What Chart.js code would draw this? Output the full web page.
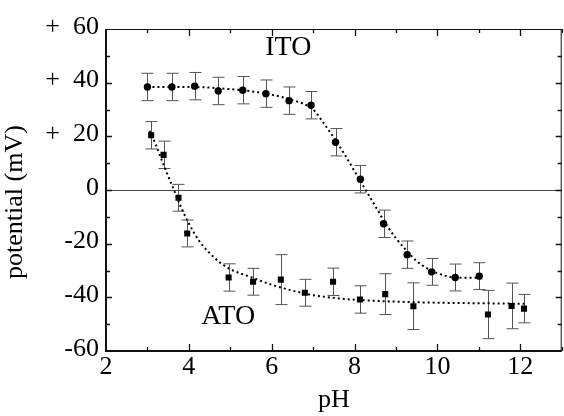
<!DOCTYPE html>
<html>
<head>
<meta charset="utf-8">
<script src="https://cdn.jsdelivr.net/npm/chart.js@4.4.1/dist/chart.umd.min.js"></script>
<style>
html, body { margin: 0; padding: 0; overflow: hidden; background: #fff; }
canvas { display: block; }
</style>
</head>
<body>
<canvas id="plot" width="566" height="416"></canvas>
<script>
const itoPH  = [3.00, 3.59, 4.14, 4.71, 5.30, 5.86, 6.42, 6.95, 7.54, 8.14, 8.70, 9.27, 9.86, 10.43, 11.01];
const itoMV  = [38.4, 38.4, 38.7, 36.9, 37.2, 35.9, 33.3, 31.6, 17.8, 4.0, -12.6, -24.1, -30.5, -32.6, -32.1];
const itoErr = [5.1, 5.1, 5.1, 5.1, 5.1, 5.1, 5.1, 5.1, 5.1, 5.1, 5.1, 5.1, 5.0, 5.0, 5.0];

const atoPH  = [3.09, 3.39, 3.75, 3.96, 4.96, 5.55, 6.22, 6.80, 7.48, 8.13, 8.74, 9.42, 11.22, 11.79, 12.09];
const atoMV  = [20.4, 13.1, -2.9, -16.2, -32.6, -34.2, -33.4, -38.3, -34.2, -40.8, -38.8, -43.3, -46.4, -43.2, -44.2];
const atoErr = [5.1, 5.1, 5.0, 5.0, 5.1, 5.0, 9.3, 5.0, 5.1, 5.1, 7.6, 8.7, 9.0, 8.5, 5.3];

// dotted fit curves
const itoFitPH = [3.0, 4.0, 5.0, 5.5, 6.0, 6.5, 7.0, 7.25, 7.5, 7.75, 8.0, 8.25, 8.5, 8.75, 9.0, 9.25, 9.5, 9.75, 10.0, 10.25, 10.5, 11.0];
const itoFitMV = [38.4, 38.4, 37.6, 36.8, 35.5, 33.5, 30.0, 25.0, 19.5, 13.5, 7.0, 0.5, -6.0, -12.5, -18.0, -22.5, -26.5, -29.2, -31.0, -32.2, -32.7, -32.7];
const atoFitPH = [3.05, 3.2, 3.4, 3.6, 3.8, 4.0, 4.25, 4.5, 4.75, 5.0, 5.5, 6.0, 6.5, 7.0, 7.5, 8.0, 9.0, 10.0, 11.0, 12.1];
const atoFitMV = [22.0, 17.0, 9.0, 1.5, -6.0, -12.5, -19.0, -23.5, -27.0, -29.5, -32.5, -35.3, -37.5, -39.2, -40.2, -40.9, -41.6, -42.0, -42.2, -42.4];

const xTickLabels = [2, 4, 6, 8, 10, 12];
const yTickLabels = [-60, -40, -20, 0, 20, 40, 60];

const serif = "'Liberation Serif', serif";

function pts(xs, ys) {
    return xs.map((x, i) => ({ x: x, y: ys[i] }));
}

const framePlugin = {
    id: 'frame',
    beforeDatasetsDraw(chart) {
        const ctx = chart.ctx;
        const xs = chart.scales.x, ys = chart.scales.y;
        const a = chart.chartArea;
        ctx.save();
        // zero line
        ctx.strokeStyle = '#444';
        ctx.lineWidth = 1;
        ctx.beginPath();
        ctx.moveTo(a.left, Math.round(ys.getPixelForValue(0)) + 0.5);
        ctx.lineTo(a.right, Math.round(ys.getPixelForValue(0)) + 0.5);
        ctx.stroke();
        // error bars
        ctx.strokeStyle = '#555';
        const bars = [[itoPH, itoMV, itoErr], [atoPH, atoMV, atoErr]];
        bars.forEach(([px, py, pe]) => {
            px.forEach((x, i) => {
                const cx = Math.round(xs.getPixelForValue(x)) + 0.5;
                const top = ys.getPixelForValue(py[i] + pe[i]);
                const bot = ys.getPixelForValue(py[i] - pe[i]);
                ctx.beginPath();
                ctx.moveTo(cx, top); ctx.lineTo(cx, bot);
                ctx.moveTo(cx - 6, top); ctx.lineTo(cx + 6, top);
                ctx.moveTo(cx - 6, bot); ctx.lineTo(cx + 6, bot);
                ctx.stroke();
            });
        });
        ctx.restore();
    },
    afterDraw(chart) {
        const ctx = chart.ctx;
        const xs = chart.scales.x, ys = chart.scales.y;
        const a = chart.chartArea;
        ctx.save();
        ctx.strokeStyle = '#111';
        // frame
        ctx.lineWidth = 2;
        ctx.beginPath();
        ctx.moveTo(a.left, a.top); ctx.lineTo(a.left, a.bottom);
        ctx.lineTo(a.right, a.bottom);
        ctx.stroke();
        ctx.lineWidth = 1;
        ctx.beginPath();
        ctx.moveTo(a.left, a.top + 0.5); ctx.lineTo(a.right, a.top + 0.5);
        ctx.moveTo(a.right - 0.5, a.top); ctx.lineTo(a.right - 0.5, a.bottom);
        ctx.stroke();
        // inward ticks
        ctx.lineWidth = 1.3;
        ctx.beginPath();
        for (let v = 3; v <= 13; v++) {
            const len = v % 2 === 0 ? 7 : 4;
            const x = Math.round(xs.getPixelForValue(v)) + 0.5;
            ctx.moveTo(x, a.bottom); ctx.lineTo(x, a.bottom - len);
            ctx.moveTo(x, a.top); ctx.lineTo(x, a.top + len);
        }
        for (let v = -50; v <= 50; v += 10) {
            const len = v % 20 === 0 ? 6 : 4;
            const y = Math.round(ys.getPixelForValue(v)) + 0.5;
            ctx.moveTo(a.left, y); ctx.lineTo(a.left + len, y);
            ctx.moveTo(a.right, y); ctx.lineTo(a.right - len, y);
        }
        ctx.stroke();
        // series names
        ctx.fillStyle = '#000';
        ctx.font = '28px ' + serif;
        ctx.textAlign = 'center';
        ctx.textBaseline = 'middle';
        ctx.fillText('ITO', xs.getPixelForValue(6.40), ys.getPixelForValue(53.1));
        ctx.fillText('ATO', xs.getPixelForValue(4.95), ys.getPixelForValue(-47.3));
        // y title
        ctx.font = '26px ' + serif;
        ctx.translate(15, 202);
        ctx.rotate(-Math.PI / 2);
        ctx.fillText('potential (mV)', 0, 0);
        ctx.restore();
    }
};

function makeChart() {
    return new Chart(document.getElementById('plot'), {
        type: 'scatter',
        data: {
            datasets: [
                {
                    label: 'ITO',
                    data: pts(itoPH, itoMV),
                    pointStyle: 'circle',
                    pointRadius: 3.7,
                    backgroundColor: '#000',
                    borderColor: '#000',
                    borderWidth: 0,
                    showLine: false
                },
                {
                    label: 'ATO',
                    data: pts(atoPH, atoMV),
                    pointStyle: 'rect',
                    pointRadius: 4.3,
                    backgroundColor: '#000',
                    borderColor: '#000',
                    borderWidth: 0,
                    showLine: false
                },
                {
                    label: 'ITO fit',
                    data: pts(itoFitPH, itoFitMV),
                    showLine: true,
                    borderColor: '#000',
                    borderWidth: 2,
                    borderDash: [2, 3],
                    pointRadius: 0,
                    cubicInterpolationMode: 'monotone',
                    fill: false
                },
                {
                    label: 'ATO fit',
                    data: pts(atoFitPH, atoFitMV),
                    showLine: true,
                    borderColor: '#000',
                    borderWidth: 2,
                    borderDash: [2, 3],
                    pointRadius: 0,
                    cubicInterpolationMode: 'monotone',
                    fill: false
                }
            ]
        },
        options: {
            responsive: false,
            animation: false,
            devicePixelRatio: 1,
            events: [],
            layout: { padding: { top: 29, right: 1, left: 0, bottom: 0 } },
            plugins: {
                legend: { display: false },
                tooltip: { enabled: false }
            },
            scales: {
                x: {
                    type: 'linear',
                    min: 2,
                    max: 13,
                    afterBuildTicks: s => { s.ticks = xTickLabels.map(v => ({ value: v })); },
                    afterFit: s => { s.height = 65; },
                    grid: { display: false, drawTicks: false },
                    border: { display: false },
                    ticks: {
                        autoSkip: false,
                        maxRotation: 0,
                        padding: 1,
                        color: '#000',
                        font: { family: serif, size: 26 }
                    },
                    title: {
                        display: true,
                        text: 'pH',
                        color: '#000',
                        padding: 0,
                        font: { family: serif, size: 26 }
                    }
                },
                y: {
                    type: 'linear',
                    min: -60,
                    max: 60,
                    afterBuildTicks: s => { s.ticks = yTickLabels.map(v => ({ value: v })); },
                    afterFit: s => { s.width = 106; },
                    grid: { display: false, drawTicks: false },
                    border: { display: false },
                    ticks: {
                        autoSkip: false,
                        padding: 7,
                        labelOffset: -2,
                        color: '#000',
                        font: { family: serif, size: 26 },
                        callback: v => v > 0 ? '+  ' + v : String(v)
                    }
                }
            }
        },
        plugins: [framePlugin]
    });
}

document.fonts.load("26px 'Liberation Serif'").then(makeChart, makeChart);
</script>
</body>
</html>
